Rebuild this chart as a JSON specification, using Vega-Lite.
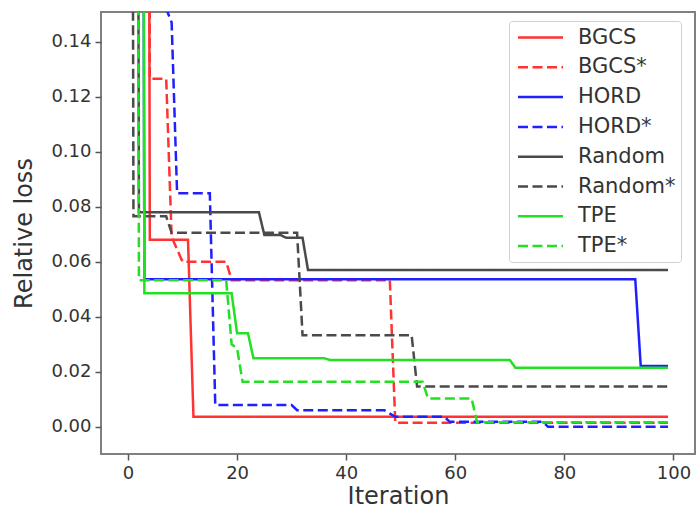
{
  "$schema": "https://vega.github.io/schema/vega-lite/v6.json",
  "width": 594,
  "height": 442,
  "autosize": {"type": "none"},
  "padding": {"left": 101, "top": 12, "right": 5, "bottom": 55},
  "background": "white",
  "config": {
    "font": "DejaVu Sans",
    "view": {"stroke": "#808080", "strokeWidth": 2},
    "axis": {
      "domain": false,
      "grid": false,
      "tickColor": "#555555",
      "tickSize": 6,
      "tickWidth": 1.5,
      "labelFont": "DejaVu Sans",
      "labelFontSize": 18,
      "labelColor": "#333333",
      "labelPadding": 4,
      "titleFont": "DejaVu Sans",
      "titleFontSize": 24,
      "titleFontWeight": "normal",
      "titleColor": "#333333"
    },
    "legend": {
      "orient": "none",
      "legendX": 408,
      "legendY": 9,
      "strokeColor": "#d0d0d0",
      "fillColor": "white",
      "padding": 5,
      "cornerRadius": 3,
      "symbolType": "M-2.25,0H2.25",
      "symbolSize": 400,
      "symbolStrokeWidth": 2.5,
      "symbolOffset": 15,
      "labelFont": "DejaVu Sans",
      "labelFontSize": 21,
      "labelColor": "#333333",
      "labelOffset": 26,
      "rowPadding": 7.8
    }
  },
  "data": {
    "values": [
      {"series": "BGCS", "iter": 0, "loss": 1.0},
      {"series": "BGCS", "iter": 3, "loss": 1.0},
      {"series": "BGCS", "iter": 4, "loss": 0.068},
      {"series": "BGCS", "iter": 11, "loss": 0.068},
      {"series": "BGCS", "iter": 12, "loss": 0.0036},
      {"series": "BGCS", "iter": 99, "loss": 0.0036},
      {"series": "BGCS*", "iter": 0, "loss": 1.0},
      {"series": "BGCS*", "iter": 3, "loss": 1.0},
      {"series": "BGCS*", "iter": 4, "loss": 0.1265},
      {"series": "BGCS*", "iter": 7, "loss": 0.1265},
      {"series": "BGCS*", "iter": 8, "loss": 0.069},
      {"series": "BGCS*", "iter": 10, "loss": 0.06},
      {"series": "BGCS*", "iter": 18, "loss": 0.06},
      {"series": "BGCS*", "iter": 19, "loss": 0.0533},
      {"series": "BGCS*", "iter": 48, "loss": 0.0533},
      {"series": "BGCS*", "iter": 49, "loss": 0.0015},
      {"series": "BGCS*", "iter": 99, "loss": 0.0015},
      {"series": "HORD", "iter": 0, "loss": 1.0},
      {"series": "HORD", "iter": 2, "loss": 1.0},
      {"series": "HORD", "iter": 3, "loss": 0.0536},
      {"series": "HORD", "iter": 93, "loss": 0.0536},
      {"series": "HORD", "iter": 94, "loss": 0.0221},
      {"series": "HORD", "iter": 99, "loss": 0.0221},
      {"series": "HORD*", "iter": 0, "loss": 1.0},
      {"series": "HORD*", "iter": 6, "loss": 1.0},
      {"series": "HORD*", "iter": 7, "loss": 0.152},
      {"series": "HORD*", "iter": 8, "loss": 0.147},
      {"series": "HORD*", "iter": 9, "loss": 0.0849},
      {"series": "HORD*", "iter": 15, "loss": 0.0849},
      {"series": "HORD*", "iter": 16, "loss": 0.0079},
      {"series": "HORD*", "iter": 30, "loss": 0.0079},
      {"series": "HORD*", "iter": 31, "loss": 0.006},
      {"series": "HORD*", "iter": 47, "loss": 0.006},
      {"series": "HORD*", "iter": 49, "loss": 0.0036},
      {"series": "HORD*", "iter": 58, "loss": 0.0036},
      {"series": "HORD*", "iter": 59, "loss": 0.0018},
      {"series": "HORD*", "iter": 76, "loss": 0.0018},
      {"series": "HORD*", "iter": 77, "loss": 0.0},
      {"series": "HORD*", "iter": 99, "loss": 0.0},
      {"series": "Random", "iter": 0, "loss": 1.0},
      {"series": "Random", "iter": 1, "loss": 1.0},
      {"series": "Random", "iter": 2, "loss": 0.078},
      {"series": "Random", "iter": 24, "loss": 0.078},
      {"series": "Random", "iter": 25, "loss": 0.0697},
      {"series": "Random", "iter": 28, "loss": 0.0697},
      {"series": "Random", "iter": 29, "loss": 0.0687},
      {"series": "Random", "iter": 32, "loss": 0.0687},
      {"series": "Random", "iter": 33, "loss": 0.057},
      {"series": "Random", "iter": 99, "loss": 0.057},
      {"series": "Random*", "iter": 0, "loss": 1.0},
      {"series": "Random*", "iter": 1, "loss": 0.0765},
      {"series": "Random*", "iter": 7, "loss": 0.0765},
      {"series": "Random*", "iter": 8, "loss": 0.0705},
      {"series": "Random*", "iter": 31, "loss": 0.0705},
      {"series": "Random*", "iter": 32, "loss": 0.0333},
      {"series": "Random*", "iter": 52, "loss": 0.0333},
      {"series": "Random*", "iter": 53, "loss": 0.0146},
      {"series": "Random*", "iter": 99, "loss": 0.0146},
      {"series": "TPE", "iter": 0, "loss": 1.0},
      {"series": "TPE", "iter": 2, "loss": 1.0},
      {"series": "TPE", "iter": 3, "loss": 0.0485},
      {"series": "TPE", "iter": 19, "loss": 0.0485},
      {"series": "TPE", "iter": 20, "loss": 0.034},
      {"series": "TPE", "iter": 22, "loss": 0.034},
      {"series": "TPE", "iter": 23, "loss": 0.0249},
      {"series": "TPE", "iter": 36, "loss": 0.0249},
      {"series": "TPE", "iter": 37, "loss": 0.0243},
      {"series": "TPE", "iter": 70, "loss": 0.0243},
      {"series": "TPE", "iter": 71, "loss": 0.0215},
      {"series": "TPE", "iter": 99, "loss": 0.0215},
      {"series": "TPE*", "iter": 0, "loss": 1.0},
      {"series": "TPE*", "iter": 1, "loss": 1.0},
      {"series": "TPE*", "iter": 2, "loss": 0.0533},
      {"series": "TPE*", "iter": 18, "loss": 0.0533},
      {"series": "TPE*", "iter": 19, "loss": 0.03},
      {"series": "TPE*", "iter": 20, "loss": 0.0285},
      {"series": "TPE*", "iter": 21, "loss": 0.0164},
      {"series": "TPE*", "iter": 54, "loss": 0.0164},
      {"series": "TPE*", "iter": 55, "loss": 0.0103},
      {"series": "TPE*", "iter": 63, "loss": 0.0103},
      {"series": "TPE*", "iter": 64, "loss": 0.0016},
      {"series": "TPE*", "iter": 99, "loss": 0.0016}
    ]
  },
  "mark": {"type": "line", "clip": true, "strokeWidth": 2.5},
  "encoding": {
    "x": {
      "field": "iter",
      "type": "quantitative",
      "title": "Iteration",
      "scale": {"domain": [-4.95, 103.95], "nice": false, "zero": false},
      "axis": {"values": [0, 20, 40, 60, 80, 100], "titlePadding": 2}
    },
    "y": {
      "field": "loss",
      "type": "quantitative",
      "title": "Relative loss",
      "scale": {"domain": [-0.0099, 0.1508], "nice": false, "zero": false},
      "axis": {"values": [0, 0.02, 0.04, 0.06, 0.08, 0.1, 0.12, 0.14], "format": ".2f", "titlePadding": 14}
    },
    "color": {
      "field": "series",
      "type": "nominal",
      "title": null,
      "scale": {
        "domain": ["BGCS", "BGCS*", "HORD", "HORD*", "Random", "Random*", "TPE", "TPE*"],
        "range": ["#ff3333", "#ff3333", "#2020ff", "#2020ff", "#4a4a4a", "#4a4a4a", "#22e022", "#22e022"]
      }
    },
    "strokeDash": {
      "field": "series",
      "type": "nominal",
      "title": null,
      "scale": {
        "domain": ["BGCS", "BGCS*", "HORD", "HORD*", "Random", "Random*", "TPE", "TPE*"],
        "range": [[1, 0], [10, 4.5], [1, 0], [10, 4.5], [1, 0], [10, 4.5], [1, 0], [10, 4.5]]
      }
    }
  }
}
